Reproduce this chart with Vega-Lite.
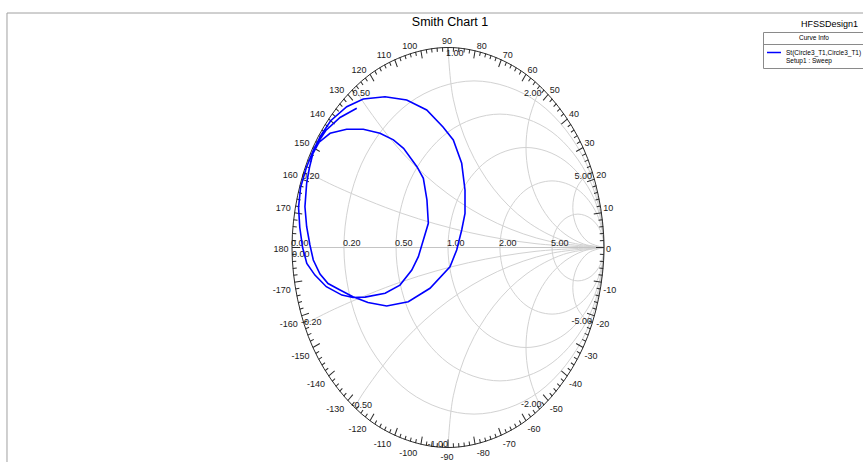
{
"$schema": "https://vega.github.io/schema/vega-lite/v6.json",
"width": 863, "height": 462, "autosize": "none", "padding": 0,
"background": "white",
"config": {"view": {"stroke": null}, "font": "Liberation Sans Narrow, Liberation Sans, sans-serif"},
"datasets": {
"oc": [{"i":0,"x":1,"y":0},{"i":1,"x":0.866,"y":0.5},{"i":2,"x":0.5,"y":0.866},{"i":3,"x":0,"y":1},{"i":4,"x":-0.5,"y":0.866},{"i":5,"x":-0.866,"y":0.5},{"i":6,"x":-1,"y":0},{"i":7,"x":-0.866,"y":-0.5},{"i":8,"x":-0.5,"y":-0.866},{"i":9,"x":0,"y":-1},{"i":10,"x":0.5,"y":-0.866},{"i":11,"x":0.866,"y":-0.5}],
"rc": [
{"g":"r02","i":0,"x":1,"y":0},{"g":"r02","i":1,"x":0.888,"y":0.417},{"g":"r02","i":2,"x":0.583,"y":0.722},{"g":"r02","i":3,"x":0.167,"y":0.833},{"g":"r02","i":4,"x":-0.25,"y":0.722},{"g":"r02","i":5,"x":-0.555,"y":0.417},{"g":"r02","i":6,"x":-0.667,"y":0},{"g":"r02","i":7,"x":-0.555,"y":-0.417},{"g":"r02","i":8,"x":-0.25,"y":-0.722},{"g":"r02","i":9,"x":0.167,"y":-0.833},{"g":"r02","i":10,"x":0.583,"y":-0.722},{"g":"r02","i":11,"x":0.888,"y":-0.417},
{"g":"r05","i":0,"x":1,"y":0},{"g":"r05","i":1,"x":0.911,"y":0.333},{"g":"r05","i":2,"x":0.667,"y":0.577},{"g":"r05","i":3,"x":0.333,"y":0.667},{"g":"r05","i":4,"x":0,"y":0.577},{"g":"r05","i":5,"x":-0.244,"y":0.333},{"g":"r05","i":6,"x":-0.333,"y":0},{"g":"r05","i":7,"x":-0.244,"y":-0.333},{"g":"r05","i":8,"x":0,"y":-0.577},{"g":"r05","i":9,"x":0.333,"y":-0.667},{"g":"r05","i":10,"x":0.667,"y":-0.577},{"g":"r05","i":11,"x":0.911,"y":-0.333},
{"g":"r1","i":0,"x":1,"y":0},{"g":"r1","i":1,"x":0.933,"y":0.25},{"g":"r1","i":2,"x":0.75,"y":0.433},{"g":"r1","i":3,"x":0.5,"y":0.5},{"g":"r1","i":4,"x":0.25,"y":0.433},{"g":"r1","i":5,"x":0.067,"y":0.25},{"g":"r1","i":6,"x":0,"y":0},{"g":"r1","i":7,"x":0.067,"y":-0.25},{"g":"r1","i":8,"x":0.25,"y":-0.433},{"g":"r1","i":9,"x":0.5,"y":-0.5},{"g":"r1","i":10,"x":0.75,"y":-0.433},{"g":"r1","i":11,"x":0.933,"y":-0.25},
{"g":"r2","i":0,"x":1,"y":0},{"g":"r2","i":1,"x":0.955,"y":0.167},{"g":"r2","i":2,"x":0.833,"y":0.289},{"g":"r2","i":3,"x":0.667,"y":0.333},{"g":"r2","i":4,"x":0.5,"y":0.289},{"g":"r2","i":5,"x":0.378,"y":0.167},{"g":"r2","i":6,"x":0.333,"y":0},{"g":"r2","i":7,"x":0.378,"y":-0.167},{"g":"r2","i":8,"x":0.5,"y":-0.289},{"g":"r2","i":9,"x":0.667,"y":-0.333},{"g":"r2","i":10,"x":0.833,"y":-0.289},{"g":"r2","i":11,"x":0.955,"y":-0.167},
{"g":"r5","i":0,"x":1,"y":0},{"g":"r5","i":1,"x":0.978,"y":0.083},{"g":"r5","i":2,"x":0.917,"y":0.144},{"g":"r5","i":3,"x":0.833,"y":0.167},{"g":"r5","i":4,"x":0.75,"y":0.144},{"g":"r5","i":5,"x":0.689,"y":0.083},{"g":"r5","i":6,"x":0.667,"y":0},{"g":"r5","i":7,"x":0.689,"y":-0.083},{"g":"r5","i":8,"x":0.75,"y":-0.144},{"g":"r5","i":9,"x":0.833,"y":-0.167},{"g":"r5","i":10,"x":0.917,"y":-0.144},{"g":"r5","i":11,"x":0.978,"y":-0.083}
],
"xc": [
{"g":"x02","i":0,"x":1,"y":0},{"g":"x02","i":1,"x":0.5642,"y":0.019},{"g":"x02","i":2,"x":0.1318,"y":0.076},{"g":"x02","i":3,"x":-0.2941,"y":0.1704},{"g":"x02","i":4,"x":-0.7101,"y":0.3015},{"g":"x02","i":5,"x":-0.9231,"y":0.3846},
{"g":"x05","i":0,"x":1,"y":0},{"g":"x05","i":1,"x":0.6527,"y":0.0304},{"g":"x05","i":2,"x":0.316,"y":0.1206},{"g":"x05","i":3,"x":0,"y":0.2679},{"g":"x05","i":4,"x":-0.2856,"y":0.4679},{"g":"x05","i":5,"x":-0.5321,"y":0.7144},{"g":"x05","i":6,"x":-0.6,"y":0.8},
{"g":"x1","i":0,"x":1,"y":0},{"g":"x1","i":1,"x":0.7412,"y":0.0341},{"g":"x1","i":2,"x":0.5,"y":0.134},{"g":"x1","i":3,"x":0.2929,"y":0.2929},{"g":"x1","i":4,"x":0.134,"y":0.5},{"g":"x1","i":5,"x":0.0341,"y":0.7412},{"g":"x1","i":6,"x":0,"y":1},
{"g":"x2","i":0,"x":1,"y":0},{"g":"x2","i":1,"x":0.8706,"y":0.017},{"g":"x2","i":2,"x":0.75,"y":0.067},{"g":"x2","i":3,"x":0.6464,"y":0.1464},{"g":"x2","i":4,"x":0.567,"y":0.25},{"g":"x2","i":5,"x":0.517,"y":0.3706},{"g":"x2","i":6,"x":0.5,"y":0.5},{"g":"x2","i":7,"x":0.517,"y":0.6294},{"g":"x2","i":8,"x":0.567,"y":0.75},{"g":"x2","i":9,"x":0.6,"y":0.8},
{"g":"x5","i":0,"x":1,"y":0},{"g":"x5","i":1,"x":0.9,"y":0.0268},{"g":"x5","i":2,"x":0.8268,"y":0.1},{"g":"x5","i":3,"x":0.8,"y":0.2},{"g":"x5","i":4,"x":0.8268,"y":0.3},{"g":"x5","i":5,"x":0.9,"y":0.3732},{"g":"x5","i":6,"x":0.9231,"y":0.3846},
{"g":"m02","i":0,"x":1,"y":0},{"g":"m02","i":1,"x":0.5642,"y":-0.019},{"g":"m02","i":2,"x":0.1318,"y":-0.076},{"g":"m02","i":3,"x":-0.2941,"y":-0.1704},{"g":"m02","i":4,"x":-0.7101,"y":-0.3015},{"g":"m02","i":5,"x":-0.9231,"y":-0.3846},
{"g":"m05","i":0,"x":1,"y":0},{"g":"m05","i":1,"x":0.6527,"y":-0.0304},{"g":"m05","i":2,"x":0.316,"y":-0.1206},{"g":"m05","i":3,"x":0,"y":-0.2679},{"g":"m05","i":4,"x":-0.2856,"y":-0.4679},{"g":"m05","i":5,"x":-0.5321,"y":-0.7144},{"g":"m05","i":6,"x":-0.6,"y":-0.8},
{"g":"m1","i":0,"x":1,"y":0},{"g":"m1","i":1,"x":0.7412,"y":-0.0341},{"g":"m1","i":2,"x":0.5,"y":-0.134},{"g":"m1","i":3,"x":0.2929,"y":-0.2929},{"g":"m1","i":4,"x":0.134,"y":-0.5},{"g":"m1","i":5,"x":0.0341,"y":-0.7412},{"g":"m1","i":6,"x":0,"y":-1},
{"g":"m2","i":0,"x":1,"y":0},{"g":"m2","i":1,"x":0.8706,"y":-0.017},{"g":"m2","i":2,"x":0.75,"y":-0.067},{"g":"m2","i":3,"x":0.6464,"y":-0.1464},{"g":"m2","i":4,"x":0.567,"y":-0.25},{"g":"m2","i":5,"x":0.517,"y":-0.3706},{"g":"m2","i":6,"x":0.5,"y":-0.5},{"g":"m2","i":7,"x":0.517,"y":-0.6294},{"g":"m2","i":8,"x":0.567,"y":-0.75},{"g":"m2","i":9,"x":0.6,"y":-0.8},
{"g":"m5","i":0,"x":1,"y":0},{"g":"m5","i":1,"x":0.9,"y":-0.0268},{"g":"m5","i":2,"x":0.8268,"y":-0.1},{"g":"m5","i":3,"x":0.8,"y":-0.2},{"g":"m5","i":4,"x":0.8268,"y":-0.3},{"g":"m5","i":5,"x":0.9,"y":-0.3732},{"g":"m5","i":6,"x":0.9231,"y":-0.3846}
],
"ticks": [
{"d":0,"x":1,"y":0},{"d":2,"x":0.999,"y":0.035},{"d":4,"x":0.998,"y":0.07},{"d":6,"x":0.995,"y":0.105},{"d":8,"x":0.99,"y":0.139},{"d":10,"x":0.985,"y":0.174},{"d":12,"x":0.978,"y":0.208},{"d":14,"x":0.97,"y":0.242},{"d":16,"x":0.961,"y":0.276},{"d":18,"x":0.951,"y":0.309},{"d":20,"x":0.94,"y":0.342},{"d":22,"x":0.927,"y":0.375},{"d":24,"x":0.914,"y":0.407},{"d":26,"x":0.899,"y":0.438},{"d":28,"x":0.883,"y":0.469},{"d":30,"x":0.866,"y":0.5},{"d":32,"x":0.848,"y":0.53},{"d":34,"x":0.829,"y":0.559},{"d":36,"x":0.809,"y":0.588},{"d":38,"x":0.788,"y":0.616},{"d":40,"x":0.766,"y":0.643},{"d":42,"x":0.743,"y":0.669},{"d":44,"x":0.719,"y":0.695},{"d":46,"x":0.695,"y":0.719},{"d":48,"x":0.669,"y":0.743},{"d":50,"x":0.643,"y":0.766},{"d":52,"x":0.616,"y":0.788},{"d":54,"x":0.588,"y":0.809},{"d":56,"x":0.559,"y":0.829},{"d":58,"x":0.53,"y":0.848},{"d":60,"x":0.5,"y":0.866},{"d":62,"x":0.469,"y":0.883},{"d":64,"x":0.438,"y":0.899},{"d":66,"x":0.407,"y":0.914},{"d":68,"x":0.375,"y":0.927},{"d":70,"x":0.342,"y":0.94},{"d":72,"x":0.309,"y":0.951},{"d":74,"x":0.276,"y":0.961},{"d":76,"x":0.242,"y":0.97},{"d":78,"x":0.208,"y":0.978},{"d":80,"x":0.174,"y":0.985},{"d":82,"x":0.139,"y":0.99},{"d":84,"x":0.105,"y":0.995},{"d":86,"x":0.07,"y":0.998},{"d":88,"x":0.035,"y":0.999},
{"d":90,"x":0,"y":1},{"d":92,"x":-0.035,"y":0.999},{"d":94,"x":-0.07,"y":0.998},{"d":96,"x":-0.105,"y":0.995},{"d":98,"x":-0.139,"y":0.99},{"d":100,"x":-0.174,"y":0.985},{"d":102,"x":-0.208,"y":0.978},{"d":104,"x":-0.242,"y":0.97},{"d":106,"x":-0.276,"y":0.961},{"d":108,"x":-0.309,"y":0.951},{"d":110,"x":-0.342,"y":0.94},{"d":112,"x":-0.375,"y":0.927},{"d":114,"x":-0.407,"y":0.914},{"d":116,"x":-0.438,"y":0.899},{"d":118,"x":-0.469,"y":0.883},{"d":120,"x":-0.5,"y":0.866},{"d":122,"x":-0.53,"y":0.848},{"d":124,"x":-0.559,"y":0.829},{"d":126,"x":-0.588,"y":0.809},{"d":128,"x":-0.616,"y":0.788},{"d":130,"x":-0.643,"y":0.766},{"d":132,"x":-0.669,"y":0.743},{"d":134,"x":-0.695,"y":0.719},{"d":136,"x":-0.719,"y":0.695},{"d":138,"x":-0.743,"y":0.669},{"d":140,"x":-0.766,"y":0.643},{"d":142,"x":-0.788,"y":0.616},{"d":144,"x":-0.809,"y":0.588},{"d":146,"x":-0.829,"y":0.559},{"d":148,"x":-0.848,"y":0.53},{"d":150,"x":-0.866,"y":0.5},{"d":152,"x":-0.883,"y":0.469},{"d":154,"x":-0.899,"y":0.438},{"d":156,"x":-0.914,"y":0.407},{"d":158,"x":-0.927,"y":0.375},{"d":160,"x":-0.94,"y":0.342},{"d":162,"x":-0.951,"y":0.309},{"d":164,"x":-0.961,"y":0.276},{"d":166,"x":-0.97,"y":0.242},{"d":168,"x":-0.978,"y":0.208},{"d":170,"x":-0.985,"y":0.174},{"d":172,"x":-0.99,"y":0.139},{"d":174,"x":-0.995,"y":0.105},{"d":176,"x":-0.998,"y":0.07},{"d":178,"x":-0.999,"y":0.035},
{"d":180,"x":-1,"y":0},{"d":182,"x":-0.999,"y":-0.035},{"d":184,"x":-0.998,"y":-0.07},{"d":186,"x":-0.995,"y":-0.105},{"d":188,"x":-0.99,"y":-0.139},{"d":190,"x":-0.985,"y":-0.174},{"d":192,"x":-0.978,"y":-0.208},{"d":194,"x":-0.97,"y":-0.242},{"d":196,"x":-0.961,"y":-0.276},{"d":198,"x":-0.951,"y":-0.309},{"d":200,"x":-0.94,"y":-0.342},{"d":202,"x":-0.927,"y":-0.375},{"d":204,"x":-0.914,"y":-0.407},{"d":206,"x":-0.899,"y":-0.438},{"d":208,"x":-0.883,"y":-0.469},{"d":210,"x":-0.866,"y":-0.5},{"d":212,"x":-0.848,"y":-0.53},{"d":214,"x":-0.829,"y":-0.559},{"d":216,"x":-0.809,"y":-0.588},{"d":218,"x":-0.788,"y":-0.616},{"d":220,"x":-0.766,"y":-0.643},{"d":222,"x":-0.743,"y":-0.669},{"d":224,"x":-0.719,"y":-0.695},{"d":226,"x":-0.695,"y":-0.719},{"d":228,"x":-0.669,"y":-0.743},{"d":230,"x":-0.643,"y":-0.766},{"d":232,"x":-0.616,"y":-0.788},{"d":234,"x":-0.588,"y":-0.809},{"d":236,"x":-0.559,"y":-0.829},{"d":238,"x":-0.53,"y":-0.848},{"d":240,"x":-0.5,"y":-0.866},{"d":242,"x":-0.469,"y":-0.883},{"d":244,"x":-0.438,"y":-0.899},{"d":246,"x":-0.407,"y":-0.914},{"d":248,"x":-0.375,"y":-0.927},{"d":250,"x":-0.342,"y":-0.94},{"d":252,"x":-0.309,"y":-0.951},{"d":254,"x":-0.276,"y":-0.961},{"d":256,"x":-0.242,"y":-0.97},{"d":258,"x":-0.208,"y":-0.978},{"d":260,"x":-0.174,"y":-0.985},{"d":262,"x":-0.139,"y":-0.99},{"d":264,"x":-0.105,"y":-0.995},{"d":266,"x":-0.07,"y":-0.998},{"d":268,"x":-0.035,"y":-0.999},
{"d":270,"x":0,"y":-1},{"d":272,"x":0.035,"y":-0.999},{"d":274,"x":0.07,"y":-0.998},{"d":276,"x":0.105,"y":-0.995},{"d":278,"x":0.139,"y":-0.99},{"d":280,"x":0.174,"y":-0.985},{"d":282,"x":0.208,"y":-0.978},{"d":284,"x":0.242,"y":-0.97},{"d":286,"x":0.276,"y":-0.961},{"d":288,"x":0.309,"y":-0.951},{"d":290,"x":0.342,"y":-0.94},{"d":292,"x":0.375,"y":-0.927},{"d":294,"x":0.407,"y":-0.914},{"d":296,"x":0.438,"y":-0.899},{"d":298,"x":0.469,"y":-0.883},{"d":300,"x":0.5,"y":-0.866},{"d":302,"x":0.53,"y":-0.848},{"d":304,"x":0.559,"y":-0.829},{"d":306,"x":0.588,"y":-0.809},{"d":308,"x":0.616,"y":-0.788},{"d":310,"x":0.643,"y":-0.766},{"d":312,"x":0.669,"y":-0.743},{"d":314,"x":0.695,"y":-0.719},{"d":316,"x":0.719,"y":-0.695},{"d":318,"x":0.743,"y":-0.669},{"d":320,"x":0.766,"y":-0.643},{"d":322,"x":0.788,"y":-0.616},{"d":324,"x":0.809,"y":-0.588},{"d":326,"x":0.829,"y":-0.559},{"d":328,"x":0.848,"y":-0.53},{"d":330,"x":0.866,"y":-0.5},{"d":332,"x":0.883,"y":-0.469},{"d":334,"x":0.899,"y":-0.438},{"d":336,"x":0.914,"y":-0.407},{"d":338,"x":0.927,"y":-0.375},{"d":340,"x":0.94,"y":-0.342},{"d":342,"x":0.951,"y":-0.309},{"d":344,"x":0.961,"y":-0.276},{"d":346,"x":0.97,"y":-0.242},{"d":348,"x":0.978,"y":-0.208},{"d":350,"x":0.985,"y":-0.174},{"d":352,"x":0.99,"y":-0.139},{"d":354,"x":0.995,"y":-0.105},{"d":356,"x":0.998,"y":-0.07},{"d":358,"x":0.999,"y":-0.035}
],
"alab": [
{"t":"0","g":"r","x":1,"y":0},
{"t":"10","g":"rt","x":0.985,"y":0.174},{"t":"20","g":"rt","x":0.94,"y":0.342},{"t":"30","g":"rt","x":0.866,"y":0.5},{"t":"40","g":"rt","x":0.766,"y":0.643},{"t":"50","g":"rt","x":0.643,"y":0.766},{"t":"60","g":"rt","x":0.5,"y":0.866},{"t":"70","g":"rt","x":0.342,"y":0.94},{"t":"80","g":"rt","x":0.174,"y":0.985},
{"t":"90","g":"t","x":0,"y":1},
{"t":"100","g":"lt","x":-0.174,"y":0.985},{"t":"110","g":"lt","x":-0.342,"y":0.94},{"t":"120","g":"lt","x":-0.5,"y":0.866},{"t":"130","g":"lt","x":-0.643,"y":0.766},{"t":"140","g":"lt","x":-0.766,"y":0.643},{"t":"150","g":"lt","x":-0.866,"y":0.5},{"t":"160","g":"lt","x":-0.94,"y":0.342},{"t":"170","g":"lt","x":-0.985,"y":0.174},
{"t":"180","g":"l","x":-1,"y":0},
{"t":"-170","g":"lb","x":-0.985,"y":-0.174},{"t":"-160","g":"lb","x":-0.94,"y":-0.342},{"t":"-150","g":"lb","x":-0.866,"y":-0.5},{"t":"-140","g":"lb","x":-0.766,"y":-0.643},{"t":"-130","g":"lb","x":-0.643,"y":-0.766},{"t":"-120","g":"lb","x":-0.5,"y":-0.866},{"t":"-110","g":"lb","x":-0.342,"y":-0.94},{"t":"-100","g":"lb","x":-0.174,"y":-0.985},
{"t":"-90","g":"b","x":0,"y":-1},
{"t":"-80","g":"rb","x":0.174,"y":-0.985},{"t":"-70","g":"rb","x":0.342,"y":-0.94},{"t":"-60","g":"rb","x":0.5,"y":-0.866},{"t":"-50","g":"rb","x":0.643,"y":-0.766},{"t":"-40","g":"rb","x":0.766,"y":-0.643},{"t":"-30","g":"rb","x":0.866,"y":-0.5},{"t":"-20","g":"rb","x":0.94,"y":-0.342},{"t":"-10","g":"rb","x":0.985,"y":-0.174}
],
"glab": [
{"t":"0.00","g":"a","x":-1,"y":0},{"t":"0.20","g":"a","x":-0.6667,"y":0},{"t":"0.50","g":"a","x":-0.3333,"y":0},{"t":"1.00","g":"a","x":0,"y":0},{"t":"2.00","g":"a","x":0.3333,"y":0},{"t":"5.00","g":"a","x":0.6667,"y":0},
{"t":"0.00","g":"a2","x":-1,"y":0},
{"t":"0.20","g":"pl","x":-0.923,"y":0.385},{"t":"0.50","g":"pl","x":-0.6,"y":0.8},{"t":"1.00","g":"pl","x":0,"y":1},
{"t":"2.00","g":"pr","x":0.6,"y":0.8},{"t":"5.00","g":"pr","x":0.923,"y":0.385},
{"t":"-0.20","g":"nl","x":-0.923,"y":-0.385},{"t":"-0.50","g":"nl","x":-0.6,"y":-0.8},
{"t":"-1.00","g":"nr","x":0,"y":-1},{"t":"-2.00","g":"nr","x":0.6,"y":-0.8},{"t":"-5.00","g":"nr","x":0.923,"y":-0.385}
],
"curve": [
{"i":1,"x":-0.585,"y":0.696},{"i":2,"x":-0.692,"y":0.65},{"i":3,"x":-0.783,"y":0.585},{"i":4,"x":-0.852,"y":0.505},{"i":5,"x":-0.908,"y":0.4},{"i":6,"x":-0.945,"y":0.3},{"i":7,"x":-0.958,"y":0.2},{"i":8,"x":-0.95,"y":0.1},{"i":9,"x":-0.932,"y":0},{"i":10,"x":-0.905,"y":-0.08},{"i":11,"x":-0.853,"y":-0.138},{"i":12,"x":-0.78,"y":-0.196},{"i":13,"x":-0.68,"y":-0.238},{"i":14,"x":-0.609,"y":-0.25},{"i":15,"x":-0.532,"y":-0.248},{"i":16,"x":-0.403,"y":-0.229},{"i":17,"x":-0.308,"y":-0.188},{"i":18,"x":-0.232,"y":-0.113},{"i":19,"x":-0.19,"y":-0.046},{"i":20,"x":-0.158,"y":0.038},{"i":21,"x":-0.126,"y":0.121},{"i":22,"x":-0.135,"y":0.238},{"i":23,"x":-0.158,"y":0.346},{"i":24,"x":-0.199,"y":0.404},{"i":25,"x":-0.285,"y":0.496},{"i":26,"x":-0.35,"y":0.538},{"i":27,"x":-0.436,"y":0.571},{"i":28,"x":-0.543,"y":0.591},{"i":29,"x":-0.65,"y":0.591},{"i":30,"x":-0.756,"y":0.571},{"i":31,"x":-0.828,"y":0.525},{"i":32,"x":-0.866,"y":0.47},{"i":33,"x":-0.888,"y":0.4},{"i":34,"x":-0.906,"y":0.321},{"i":35,"x":-0.917,"y":0.204},{"i":36,"x":-0.906,"y":0.104},{"i":37,"x":-0.885,"y":0.0125},{"i":38,"x":-0.8635,"y":-0.0625},{"i":39,"x":-0.8205,"y":-0.1325},{"i":40,"x":-0.769,"y":-0.18},{"i":41,"x":-0.692,"y":-0.2125},{"i":42,"x":-0.609,"y":-0.246},{"i":43,"x":-0.513,"y":-0.275},{"i":44,"x":-0.393,"y":-0.2925},{"i":45,"x":-0.2545,"y":-0.271},{"i":46,"x":-0.1154,"y":-0.204},{"i":47,"x":0.0128,"y":-0.096},{"i":48,"x":0.0558,"y":-0.0125},{"i":49,"x":0.0878,"y":0.0875},{"i":50,"x":0.109,"y":0.171},{"i":51,"x":0.109,"y":0.2875},{"i":52,"x":0.0878,"y":0.421},{"i":53,"x":0.034,"y":0.5375},{"i":54,"x":-0.032,"y":0.6025},{"i":55,"x":-0.1365,"y":0.6875},{"i":56,"x":-0.2647,"y":0.7375},{"i":57,"x":-0.4038,"y":0.754},{"i":58,"x":-0.543,"y":0.7425},{"i":59,"x":-0.649,"y":0.704},{"i":60,"x":-0.752,"y":0.634},{"i":61,"x":-0.815,"y":0.56},{"i":62,"x":-0.862,"y":0.488},{"i":63,"x":-0.893,"y":0.43}
]
},
"layer": [
{"data": {"values": [{}]}, "mark": {"type": "rect", "fillOpacity": 0, "stroke": "#a0a0a0", "strokeWidth": 1},
 "encoding": {"x": {"datum": -2.827, "type": "quantitative", "scale": {"domain": [-2.8718, 2.6603], "nice": false, "zero": false}, "axis": null}, "x2": {"datum": 2.75},
  "y": {"datum": 1.1725, "type": "quantitative", "scale": {"domain": [-1.0725, 1.2375], "nice": false, "zero": false}, "axis": null}, "y2": {"datum": -1.2}}},
{"data": {"name": "rc"}, "mark": {"type": "line", "interpolate": "cardinal-closed", "color": "#d2d2d2", "strokeWidth": 1},
 "encoding": {"x": {"field": "x", "type": "quantitative", "scale": {"domain": [-2.8718, 2.6603], "nice": false, "zero": false}, "axis": null},
  "y": {"field": "y", "type": "quantitative", "scale": {"domain": [-1.0725, 1.2375], "nice": false, "zero": false}, "axis": null},
  "detail": {"field": "g"}, "order": {"field": "i"}}},
{"data": {"name": "xc"}, "mark": {"type": "line", "interpolate": "catmull-rom", "color": "#d2d2d2", "strokeWidth": 1},
 "encoding": {"x": {"field": "x", "type": "quantitative", "scale": {"domain": [-2.8718, 2.6603], "nice": false, "zero": false}, "axis": null},
  "y": {"field": "y", "type": "quantitative", "scale": {"domain": [-1.0725, 1.2375], "nice": false, "zero": false}, "axis": null},
  "detail": {"field": "g"}, "order": {"field": "i"}}},
{"data": {"values": [{}]}, "mark": {"type": "rule", "color": "#c4c4c4", "strokeWidth": 1},
 "encoding": {"x": {"datum": -1, "type": "quantitative", "scale": {"domain": [-2.8718, 2.6603], "nice": false, "zero": false}, "axis": null}, "x2": {"datum": 1},
  "y": {"datum": 0, "type": "quantitative", "scale": {"domain": [-1.0725, 1.2375], "nice": false, "zero": false}, "axis": null}}},
{"data": {"name": "oc"}, "mark": {"type": "line", "interpolate": "cardinal-closed", "color": "#2a2a2a", "strokeWidth": 1},
 "encoding": {"x": {"field": "x", "type": "quantitative", "scale": {"domain": [-2.8718, 2.6603], "nice": false, "zero": false}, "axis": null},
  "y": {"field": "y", "type": "quantitative", "scale": {"domain": [-1.0725, 1.2375], "nice": false, "zero": false}, "axis": null},
  "order": {"field": "i"}}},
{"data": {"name": "ticks"}, "transform": [{"filter": "datum.d % 10 != 0"}],
 "mark": {"type": "point", "shape": "M0,0L-2,0", "size": 16, "filled": false, "color": "#2a2a2a", "opacity": 1, "strokeWidth": 1},
 "encoding": {"x": {"field": "x", "type": "quantitative", "scale": {"domain": [-2.8718, 2.6603], "nice": false, "zero": false}, "axis": null},
  "y": {"field": "y", "type": "quantitative", "scale": {"domain": [-1.0725, 1.2375], "nice": false, "zero": false}, "axis": null},
  "angle": {"field": "d", "type": "quantitative", "scale": {"domain": [0, 360], "range": [360, 0]}, "legend": null}}},
{"data": {"name": "ticks"}, "transform": [{"filter": "datum.d % 10 == 0"}],
 "mark": {"type": "point", "shape": "M0,0L-2,0", "size": 64, "filled": false, "color": "#2a2a2a", "opacity": 1, "strokeWidth": 1},
 "encoding": {"x": {"field": "x", "type": "quantitative", "scale": {"domain": [-2.8718, 2.6603], "nice": false, "zero": false}, "axis": null},
  "y": {"field": "y", "type": "quantitative", "scale": {"domain": [-1.0725, 1.2375], "nice": false, "zero": false}, "axis": null},
  "angle": {"field": "d", "type": "quantitative", "scale": {"domain": [0, 360], "range": [360, 0]}, "legend": null}}},
{"data": {"name": "alab"}, "transform": [{"filter": "datum.g == 'rt'"}], "mark": {"type": "text", "align": "left", "baseline": "middle", "dx": 1.5, "dy": -4.5, "fontSize": 9, "color": "#1a1a1a"},
 "encoding": {"x": {"field": "x", "type": "quantitative", "scale": {"domain": [-2.8718, 2.6603], "nice": false, "zero": false}, "axis": null}, "y": {"field": "y", "type": "quantitative", "scale": {"domain": [-1.0725, 1.2375], "nice": false, "zero": false}, "axis": null}, "text": {"field": "t"}}},
{"data": {"name": "alab"}, "transform": [{"filter": "datum.g == 'rb'"}], "mark": {"type": "text", "align": "left", "baseline": "middle", "dx": 1.5, "dy": 8, "fontSize": 9, "color": "#1a1a1a"},
 "encoding": {"x": {"field": "x", "type": "quantitative", "scale": {"domain": [-2.8718, 2.6603], "nice": false, "zero": false}, "axis": null}, "y": {"field": "y", "type": "quantitative", "scale": {"domain": [-1.0725, 1.2375], "nice": false, "zero": false}, "axis": null}, "text": {"field": "t"}}},
{"data": {"name": "alab"}, "transform": [{"filter": "datum.g == 'lt'"}], "mark": {"type": "text", "align": "right", "baseline": "middle", "dx": -3.5, "dy": -4.5, "fontSize": 9, "color": "#1a1a1a"},
 "encoding": {"x": {"field": "x", "type": "quantitative", "scale": {"domain": [-2.8718, 2.6603], "nice": false, "zero": false}, "axis": null}, "y": {"field": "y", "type": "quantitative", "scale": {"domain": [-1.0725, 1.2375], "nice": false, "zero": false}, "axis": null}, "text": {"field": "t"}}},
{"data": {"name": "alab"}, "transform": [{"filter": "datum.g == 'lb'"}], "mark": {"type": "text", "align": "right", "baseline": "middle", "dx": -3.5, "dy": 8, "fontSize": 9, "color": "#1a1a1a"},
 "encoding": {"x": {"field": "x", "type": "quantitative", "scale": {"domain": [-2.8718, 2.6603], "nice": false, "zero": false}, "axis": null}, "y": {"field": "y", "type": "quantitative", "scale": {"domain": [-1.0725, 1.2375], "nice": false, "zero": false}, "axis": null}, "text": {"field": "t"}}},
{"data": {"name": "alab"}, "transform": [{"filter": "datum.g == 't'"}], "mark": {"type": "text", "align": "center", "baseline": "middle", "dx": -1, "dy": -6.5, "fontSize": 9, "color": "#1a1a1a"},
 "encoding": {"x": {"field": "x", "type": "quantitative", "scale": {"domain": [-2.8718, 2.6603], "nice": false, "zero": false}, "axis": null}, "y": {"field": "y", "type": "quantitative", "scale": {"domain": [-1.0725, 1.2375], "nice": false, "zero": false}, "axis": null}, "text": {"field": "t"}}},
{"data": {"name": "alab"}, "transform": [{"filter": "datum.g == 'b'"}], "mark": {"type": "text", "align": "center", "baseline": "middle", "dx": -1, "dy": 9.5, "fontSize": 9, "color": "#1a1a1a"},
 "encoding": {"x": {"field": "x", "type": "quantitative", "scale": {"domain": [-2.8718, 2.6603], "nice": false, "zero": false}, "axis": null}, "y": {"field": "y", "type": "quantitative", "scale": {"domain": [-1.0725, 1.2375], "nice": false, "zero": false}, "axis": null}, "text": {"field": "t"}}},
{"data": {"name": "alab"}, "transform": [{"filter": "datum.g == 'l'"}], "mark": {"type": "text", "align": "right", "baseline": "middle", "dx": -3.5, "dy": 1.5, "fontSize": 9, "color": "#1a1a1a"},
 "encoding": {"x": {"field": "x", "type": "quantitative", "scale": {"domain": [-2.8718, 2.6603], "nice": false, "zero": false}, "axis": null}, "y": {"field": "y", "type": "quantitative", "scale": {"domain": [-1.0725, 1.2375], "nice": false, "zero": false}, "axis": null}, "text": {"field": "t"}}},
{"data": {"name": "alab"}, "transform": [{"filter": "datum.g == 'r'"}], "mark": {"type": "text", "align": "left", "baseline": "middle", "dx": 2, "dy": 1.5, "fontSize": 9, "color": "#1a1a1a"},
 "encoding": {"x": {"field": "x", "type": "quantitative", "scale": {"domain": [-2.8718, 2.6603], "nice": false, "zero": false}, "axis": null}, "y": {"field": "y", "type": "quantitative", "scale": {"domain": [-1.0725, 1.2375], "nice": false, "zero": false}, "axis": null}, "text": {"field": "t"}}},
{"data": {"name": "glab"}, "transform": [{"filter": "datum.g == 'a'"}], "mark": {"type": "text", "align": "left", "baseline": "middle", "dx": -1, "dy": -4.5, "fontSize": 9, "color": "#1a1a1a"},
 "encoding": {"x": {"field": "x", "type": "quantitative", "scale": {"domain": [-2.8718, 2.6603], "nice": false, "zero": false}, "axis": null}, "y": {"field": "y", "type": "quantitative", "scale": {"domain": [-1.0725, 1.2375], "nice": false, "zero": false}, "axis": null}, "text": {"field": "t"}}},
{"data": {"name": "glab"}, "transform": [{"filter": "datum.g == 'a2'"}], "mark": {"type": "text", "align": "left", "baseline": "middle", "dx": 0, "dy": 6, "fontSize": 9, "color": "#1a1a1a"},
 "encoding": {"x": {"field": "x", "type": "quantitative", "scale": {"domain": [-2.8718, 2.6603], "nice": false, "zero": false}, "axis": null}, "y": {"field": "y", "type": "quantitative", "scale": {"domain": [-1.0725, 1.2375], "nice": false, "zero": false}, "axis": null}, "text": {"field": "t"}}},
{"data": {"name": "glab"}, "transform": [{"filter": "datum.g == 'pl'"}], "mark": {"type": "text", "align": "left", "baseline": "middle", "dx": -2, "dy": 5.5, "fontSize": 9, "color": "#1a1a1a"},
 "encoding": {"x": {"field": "x", "type": "quantitative", "scale": {"domain": [-2.8718, 2.6603], "nice": false, "zero": false}, "axis": null}, "y": {"field": "y", "type": "quantitative", "scale": {"domain": [-1.0725, 1.2375], "nice": false, "zero": false}, "axis": null}, "text": {"field": "t"}}},
{"data": {"name": "glab"}, "transform": [{"filter": "datum.g == 'pr'"}], "mark": {"type": "text", "align": "right", "baseline": "middle", "dx": 0, "dy": 5, "fontSize": 9, "color": "#1a1a1a"},
 "encoding": {"x": {"field": "x", "type": "quantitative", "scale": {"domain": [-2.8718, 2.6603], "nice": false, "zero": false}, "axis": null}, "y": {"field": "y", "type": "quantitative", "scale": {"domain": [-1.0725, 1.2375], "nice": false, "zero": false}, "axis": null}, "text": {"field": "t"}}},
{"data": {"name": "glab"}, "transform": [{"filter": "datum.g == 'nl'"}], "mark": {"type": "text", "align": "left", "baseline": "middle", "dx": -3, "dy": -3, "fontSize": 9, "color": "#1a1a1a"},
 "encoding": {"x": {"field": "x", "type": "quantitative", "scale": {"domain": [-2.8718, 2.6603], "nice": false, "zero": false}, "axis": null}, "y": {"field": "y", "type": "quantitative", "scale": {"domain": [-1.0725, 1.2375], "nice": false, "zero": false}, "axis": null}, "text": {"field": "t"}}},
{"data": {"name": "glab"}, "transform": [{"filter": "datum.g == 'nr'"}], "mark": {"type": "text", "align": "right", "baseline": "middle", "dx": 0, "dy": -3.5, "fontSize": 9, "color": "#1a1a1a"},
 "encoding": {"x": {"field": "x", "type": "quantitative", "scale": {"domain": [-2.8718, 2.6603], "nice": false, "zero": false}, "axis": null}, "y": {"field": "y", "type": "quantitative", "scale": {"domain": [-1.0725, 1.2375], "nice": false, "zero": false}, "axis": null}, "text": {"field": "t"}}},
{"data": {"values": [{}]}, "mark": {"type": "rule", "color": "#8a8a8a", "strokeWidth": 1},
 "encoding": {"x": {"datum": 2.0192, "type": "quantitative", "scale": {"domain": [-2.8718, 2.6603], "nice": false, "zero": false}, "axis": null}, "x2": {"datum": 2.705},
  "y": {"datum": 1.015, "type": "quantitative", "scale": {"domain": [-1.0725, 1.2375], "nice": false, "zero": false}, "axis": null}}},
{"data": {"name": "curve"}, "mark": {"type": "line", "strokeWidth": 1.6},
 "encoding": {"x": {"field": "x", "type": "quantitative", "scale": {"domain": [-2.8718, 2.6603], "nice": false, "zero": false}, "axis": null},
  "y": {"field": "y", "type": "quantitative", "scale": {"domain": [-1.0725, 1.2375], "nice": false, "zero": false}, "axis": null},
  "order": {"field": "i"},
  "color": {"datum": "St(Circle3_T1,Circle3_T1)", "type": "nominal", "scale": {"range": ["#0000ff"]},
   "legend": {"orient": "none", "legendX": 763, "legendY": 32, "title": "Curve Info", "titleAnchor": "middle", "titleFontSize": 6.5, "titleFontWeight": "normal", "titleColor": "#000", "titlePadding": 3,
    "labelFontSize": 6.5, "labelColor": "#000", "labelLimit": 76, "labelExpr": "['St(Circle3_T1,Circle3_T1)', 'Setup1 : Sweep']",
    "symbolType": "stroke", "symbolSize": 196, "symbolStrokeWidth": 1.5, "strokeColor": "#8a8a8a", "padding": 3}}}},
{"data": {"values": [{"t": "Smith Chart 1"}]}, "mark": {"type": "text", "align": "center", "baseline": "middle", "fontSize": 12.5, "color": "#000"},
 "encoding": {"x": {"datum": 0.0128, "type": "quantitative", "scale": {"domain": [-2.8718, 2.6603], "nice": false, "zero": false}, "axis": null}, "y": {"datum": 1.13, "type": "quantitative", "scale": {"domain": [-1.0725, 1.2375], "nice": false, "zero": false}, "axis": null}, "text": {"field": "t"}}},
{"data": {"values": [{"t": "HFSSDesign1"}]}, "mark": {"type": "text", "align": "right", "baseline": "middle", "fontSize": 9, "color": "#000"},
 "encoding": {"x": {"datum": 2.628, "type": "quantitative", "scale": {"domain": [-2.8718, 2.6603], "nice": false, "zero": false}, "axis": null}, "y": {"datum": 1.12, "type": "quantitative", "scale": {"domain": [-1.0725, 1.2375], "nice": false, "zero": false}, "axis": null}, "text": {"field": "t"}}}
]
}
